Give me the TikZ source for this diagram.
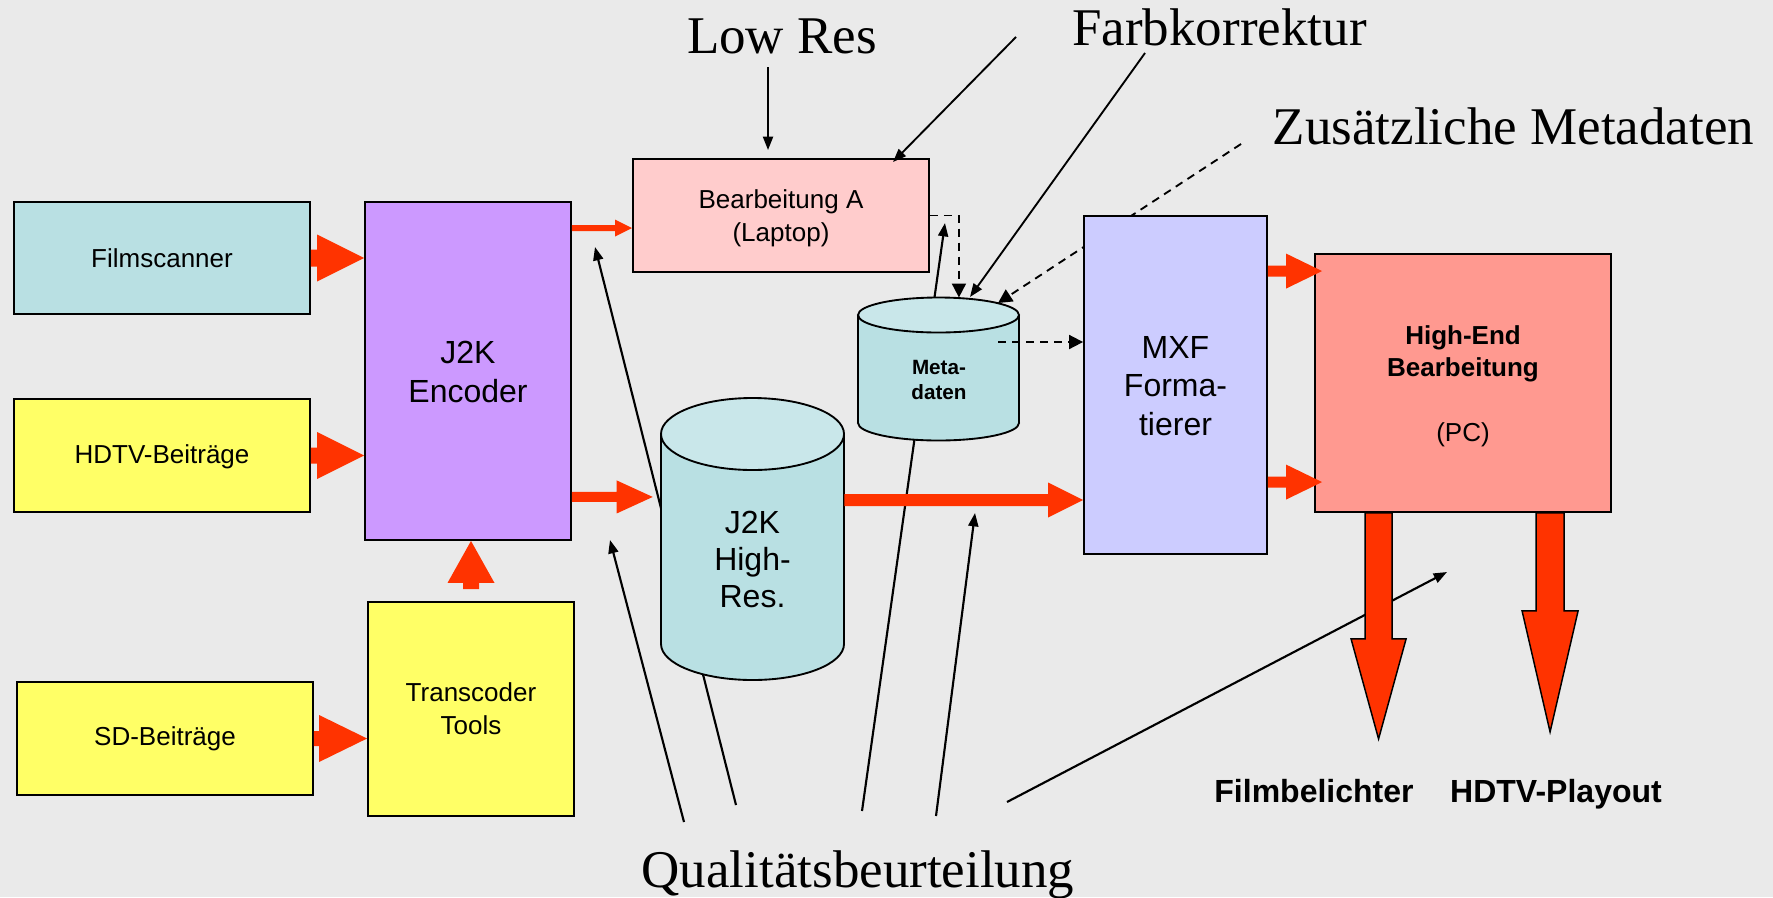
\documentclass[tikz,border=0pt]{standalone}
\usepackage{fontspec}
\setmainfont{Liberation Serif}
\setsansfont{Liberation Sans}
\usetikzlibrary{arrows.meta,calc,fit}
\definecolor{bgc}{RGB}{234,234,234}
\definecolor{cyanb}{RGB}{185,224,227}
\definecolor{cyltop}{RGB}{201,231,234}
\definecolor{yelb}{RGB}{255,255,102}
\definecolor{purb}{RGB}{204,153,255}
\definecolor{pinkb}{RGB}{255,204,204}
\definecolor{lavb}{RGB}{204,204,255}
\definecolor{salb}{RGB}{255,153,144}
\definecolor{redc}{RGB}{255,51,0}
\newcommand\fntA{\sffamily\fontsize{19.5}{24.5}\selectfont}
\newcommand\fntB{\sffamily\fontsize{24}{29}\selectfont}
\newcommand\fntC{\sffamily\bfseries\fontsize{15.5}{18.75}\selectfont}
\newcommand\fntD{\sffamily\bfseries\fontsize{24}{29}\selectfont}
\newcommand\fntS{\rmfamily\fontsize{39.75}{44}\selectfont}
% right-pointing red block arrow: tail, tip, half shaft, half head, head length
\newcommand\redH[5]{\fill[redc] ($(#1)+(0,-#3)$) -- ($(#2)+(-#5,-#3)$) -- ($(#2)+(-#5,-#4)$) -- (#2) -- ($(#2)+(-#5,#4)$) -- ($(#2)+(-#5,#3)$) -- ($(#1)+(0,#3)$) -- cycle;}
% downward outlined red block arrow
\newcommand\redD[5]{\filldraw[fill=redc,draw=black,line width=1.1pt,line join=miter] ($(#1)+(-#3,0)$) -- ($(#2)+(-#3,-#5)$) -- ($(#2)+(-#4,-#5)$) -- (#2) -- ($(#2)+(#4,-#5)$) -- ($(#2)+(#3,-#5)$) -- ($(#1)+(#3,0)$) -- cycle;}
\begin{document}
\begin{tikzpicture}[x=0.75pt,y=-0.75pt,
  box/.style={draw=black,line width=1.4pt,inner sep=0pt},
  txt/.style={inner sep=0pt,align=center},
  lbl/.style={font=\fntS,anchor=base,inner sep=0pt},
  thin/.style={line width=1.4pt,-{Triangle[length=10pt,width=7.5pt]}},
  thinq/.style={line width=1.6pt,-{Triangle[length=10pt,width=7.5pt]}},
  dsh/.style={line width=1.4pt,dash pattern=on 6pt off 4.5pt,-{Triangle[length=10.5pt,width=10.5pt]}},
]
\fill[bgc] (0,0) rectangle (1773,897);
\useasboundingbox (0,0) rectangle (1773,897);

% ---- labels
\node[lbl] (lowres) at (782,53) {Low Res};
\node[lbl] (farb) at (1219.5,45) {Farbkorrektur};
\node[lbl] (zus) at (1513.5,144) {Zusätzliche Metadaten};
\node[lbl] (qual) at (858,887) {Qualitätsbeurteilung};
\node[font=\fntD,inner sep=0pt,anchor=base] (filmb) at (1314,802) {Filmbelichter};
\node[font=\fntD,inner sep=0pt,anchor=base] (playout) at (1556,802) {HDTV-Playout};

% ---- free ends of annotation lines
\coordinate (q1s) at (684,822); \coordinate (q1e) at (610,540);
\coordinate (q2s) at (736,805); \coordinate (q2e) at (595,247);
\coordinate (q3s) at (862,811); \coordinate (q3e) at (945,223);
\coordinate (q4s) at (936,816); \coordinate (q4e) at (975,513);
\coordinate (q5s) at (1007,802); \coordinate (q5e) at (1447,572);
\coordinate (zs) at (1241,144); \coordinate (ze) at (998,303);

% lines passing behind shapes
\draw[thinq] (q2s) -- (q2e);
\draw[thinq] (q3s) -- (q3e);
\draw[thinq] (q5s) -- (q5e);
\draw[dsh] (zs) -- (ze);

% ---- boxes
\node[box,fill=cyanb,fit={(14,202)(310,314)}] (fs) {};
\node[txt,font=\fntA] (fst) at (fs.center) {Filmscanner};
\node[box,fill=yelb,fit={(14,399)(310,512)}] (hdtv) {};
\node[txt,font=\fntA] (hdtvt) at ($(hdtv.center)+(0,1)$) {HDTV-Beiträge};
\node[box,fill=yelb,fit={(17,682)(313,795)}] (sd) {};
\node[txt,font=\fntA] (sdt) at (sd.center) {SD-Beiträge};
\node[box,fill=purb,fit={(365,202)(571,540)}] (enc) {};
\node[txt,font=\fntB] (enct) at ($(enc.center)+(0,1)$) {J2K\\Encoder};
\node[box,fill=yelb,fit={(368,602)(574,816)}] (tc) {};
\node[txt,font=\fntA] (tct) at (tc.center) {Transcoder\\Tools};
\node[box,fill=pinkb,fit={(633,159)(929,272)}] (bea) {};
\node[txt,font=\fntA] (beat) at ($(bea.center)+(0,3)$) {Bearbeitung A\\(Laptop)};
\node[box,fill=lavb,fit={(1084,216)(1267,554)}] (mxf) {};
\node[txt,font=\fntB] (mxft) at ($(mxf.center)+(0,1)$) {MXF\\Forma-\\tierer};
\node[box,fill=salb,fit={(1315,254)(1611,512)}] (he) {};
\node[txt,font=\fntA] (het) at ($(he.center)+(0,3)$) {{\bfseries High-End}\\{\bfseries Bearbeitung}\\[24pt](PC)};

% ---- J2K High-Res cylinder
\node[inner sep=0pt,fit={(661,398)(844,680)}] (hr) {};
\filldraw[fill=cyanb,draw=black,line width=1.4pt] (752.5,644) ellipse [x radius=91.5,y radius=36];
\fill[cyanb] (661,434) rectangle (844,644);
\draw[line width=1.4pt] (661,434) -- (661,644) (844,434) -- (844,644);
\filldraw[fill=cyltop,draw=black,line width=1.4pt] (752.5,434) ellipse [x radius=91.5,y radius=36];
\node[txt,font=\sffamily\fontsize{24}{27.5}\selectfont] (hrt) at (752.5,559.5) {J2K\\High-\\Res.};

% ---- Metadaten cylinder
\node[inner sep=0pt,fit={(858,297)(1019,441)}] (md) {};
\filldraw[fill=cyanb,draw=black,line width=1.4pt] (938.5,423) ellipse [x radius=80.5,y radius=17.5];
\fill[cyanb] (858,315) rectangle (1019,423);
\draw[line width=1.4pt] (858,315) -- (858,423) (1019,315) -- (1019,423);
\filldraw[fill=cyltop,draw=black,line width=1.4pt] (938.5,315) ellipse [x radius=80.5,y radius=17.5];
\node[txt,font=\fntC] (mdt) at (939,379.5) {Meta-\\daten};

% ---- red block arrows
\coordinate (a1h) at (enc.west |- fs.east);
\redH{fs.east}{a1h}{8.5}{23.5}{47}
\coordinate (a2h) at (enc.west |- hdtv.east);
\redH{hdtv.east}{a2h}{8}{23.5}{47}
\coordinate (a3h) at (tc.west |- sd.east);
\redH{sd.east}{a3h}{7.5}{23.5}{48}
\coordinate (a4t) at ($(enc.north east)+(0,27)$);
\coordinate (a4h) at (bea.west |- a4t);
\redH{a4t}{a4h}{3}{8.5}{17}
\coordinate (a5t) at ($(enc.south east)+(0,-44)$);
\coordinate (a5h) at ($(hr.west |- a5t)+(-8,0)$);
\redH{a5t}{a5h}{5}{16.5}{36}
\coordinate (a6t) at ($(hr.east)+(0,-39)$);
\coordinate (a6h) at (mxf.west |- a6t);
\redH{a6t}{a6h}{6}{17.5}{35}
\coordinate (a7t) at ($(mxf.north east)+(0,56)$);
\coordinate (a7h) at ($(he.west |- a7t)+(8,0)$);
\redH{a7t}{a7h}{5.5}{17.5}{36}
\coordinate (a8t) at ($(mxf.north east)+(0,267)$);
\coordinate (a8h) at ($(he.west |- a8t)+(8,0)$);
\redH{a8t}{a8h}{5.5}{17.5}{36}
% upward arrow transcoder -> encoder
\coordinate (u1) at ($(tc.north)+(0,-12)$);
\coordinate (u2) at (u1 |- enc.south);
\fill[redc] ($(u1)+(-8,0)$) -- ($(u2)+(-8,42)$) -- ($(u2)+(-23.5,42)$) -- (u2) -- ($(u2)+(23.5,42)$) -- ($(u2)+(8,42)$) -- ($(u1)+(8,0)$) -- cycle;
% downward outputs
\coordinate (d1t) at ($(he.south west)+(64.5,0)$);
\coordinate (d1h) at ($(d1t)+(0,226)$);
\redD{d1t}{d1h}{13.5}{27.5}{100}
\coordinate (d2t) at ($(he.south west)+(236,0)$);
\coordinate (d2h) at ($(d2t)+(0,219)$);
\redD{d2t}{d2h}{14}{28}{121}

% ---- thin annotation arrows
\coordinate (lr1) at (768,67); \coordinate (lr2) at (768,150);
\draw[thin] (lr1) -- (lr2);
\coordinate (f1s) at (1016,37); \coordinate (f1e) at (893,162);
\draw[thin] (f1s) -- (f1e);
\coordinate (f2s) at (1145,53); \coordinate (f2e) at (970,297);
\draw[thin] (f2s) -- (f2e);
\draw[thinq] (q1s) -- (q1e);
\draw[thinq] (q4s) -- (q4e);

% ---- dashed metadata arrows
\draw[dsh] (bea.east) -- ++(29,0) -- ++(0,82);
\coordinate (mdo) at (998,342);
\draw[dsh] (mdo) -- (mxf.west |- mdo);
\end{tikzpicture}
\end{document}
